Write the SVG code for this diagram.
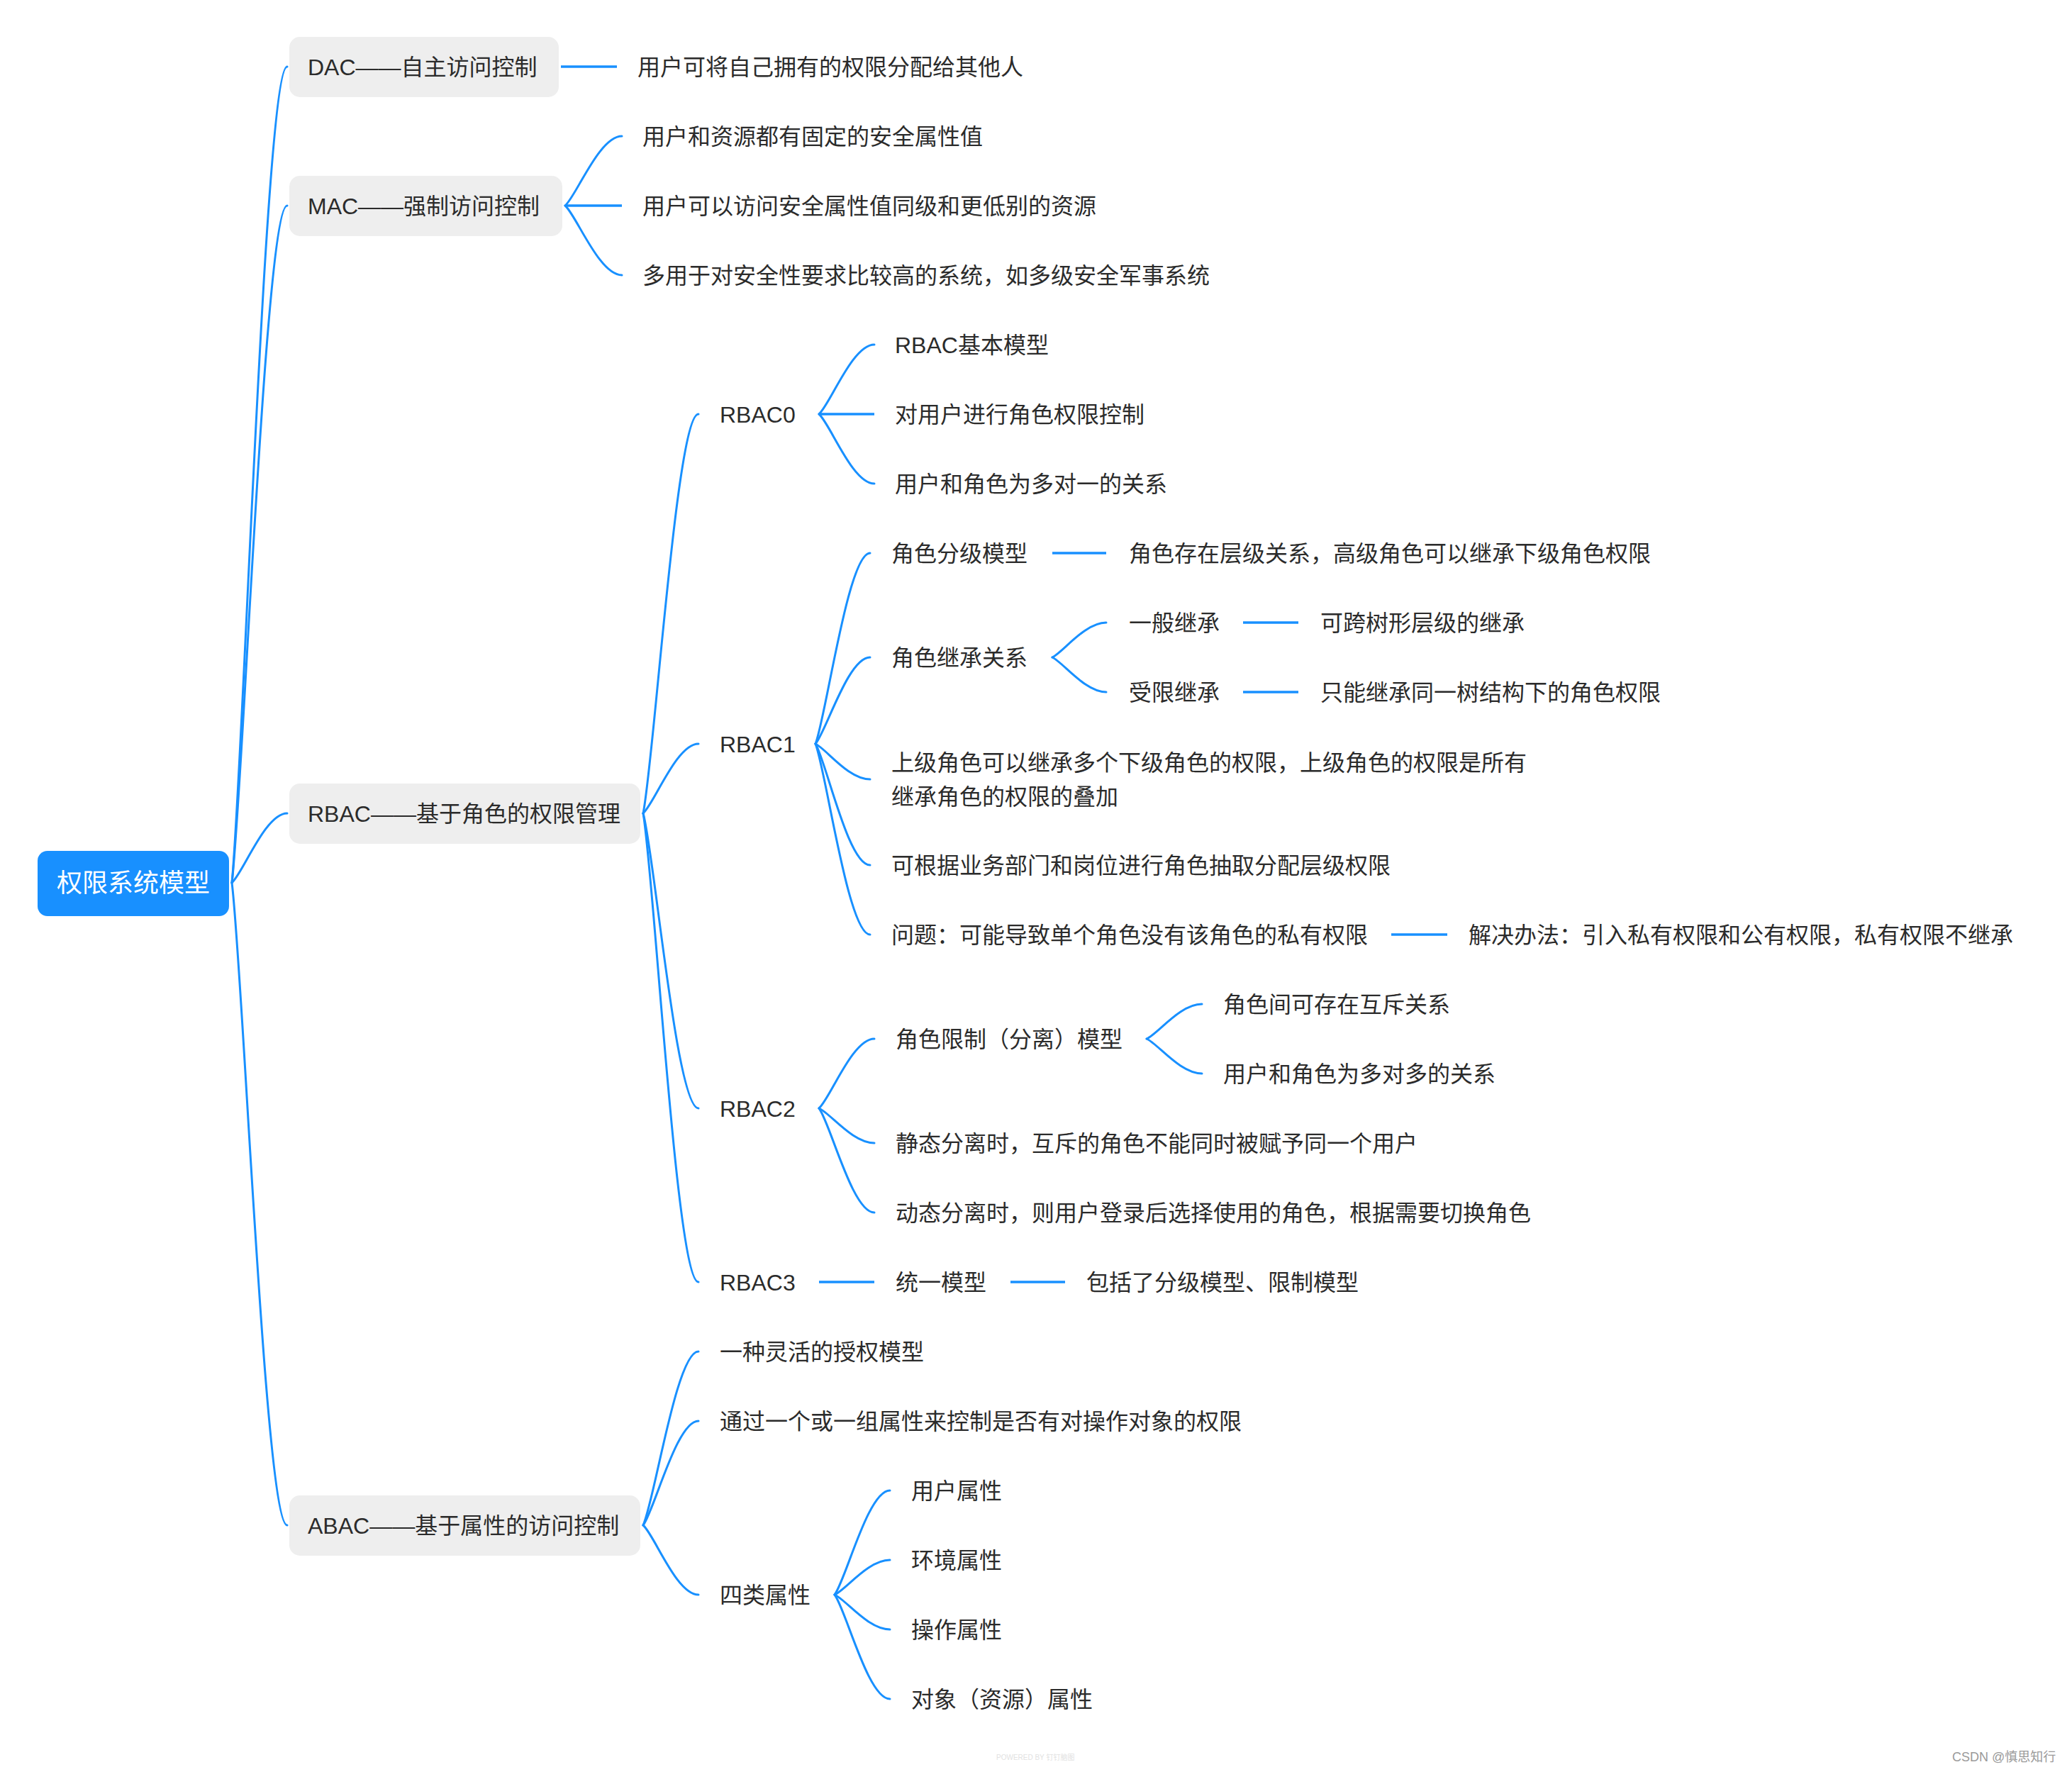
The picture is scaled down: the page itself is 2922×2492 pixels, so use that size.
<svg xmlns="http://www.w3.org/2000/svg" width="2922" height="2492" viewBox="0 0 2922 2492">
<style>
text{font-family:"Liberation Sans","Noto Sans CJK SC",sans-serif;font-size:32px;fill:#2b2b2b}
.root-box{fill:#1890ff}
.root-text{fill:#ffffff;font-size:36px}
.box{fill:#eeeeee}
.c{fill:none;stroke:#1890ff;stroke-width:3;stroke-linecap:round}
.s{fill:none;stroke:#1890ff;stroke-width:3.5}
.foot1{font-size:10px;fill:#e2e2e2}
.foot2{font-size:18px;fill:#9a9a9a}
</style>
<rect width="2922" height="2492" fill="#ffffff"/>
<g id="connectors">
<path class="c" d="M327,1245 C343,1084 374,94 405,94"/>
<path class="c" d="M327,1245 C343,1111 374,290 405,290"/>
<path class="c" d="M327,1245 C343,1231 374,1147 405,1147"/>
<path class="c" d="M327,1245 C343,1372 374,2151 405,2151"/>
<path class="s" d="M791,94 L870,94"/>
<path class="c" d="M797,290 C813,276 845,192 877,192"/>
<path class="s" d="M797,290 L877,290"/>
<path class="c" d="M797,290 C813,304 845,388 877,388"/>
<path class="c" d="M907,1147 C923,1068 954,584 985,584"/>
<path class="c" d="M907,1147 C923,1133 954,1049 985,1049"/>
<path class="c" d="M907,1147 C923,1205 954,1563 985,1563"/>
<path class="c" d="M907,1147 C923,1240 954,1808 985,1808"/>
<path class="c" d="M1155,584 C1171,570 1202,486 1233,486"/>
<path class="s" d="M1155,584 L1233,584"/>
<path class="c" d="M1155,584 C1171,598 1202,682 1233,682"/>
<path class="c" d="M1150,1049 C1165,1011 1196,780 1227,780"/>
<path class="c" d="M1150,1049 C1165,1032 1196,927 1227,927"/>
<path class="c" d="M1150,1049 C1165,1056 1196,1099 1227,1099"/>
<path class="c" d="M1150,1049 C1165,1073 1196,1220 1227,1220"/>
<path class="c" d="M1150,1049 C1165,1087 1196,1318 1227,1318"/>
<path class="s" d="M1484,780 L1560,780"/>
<path class="c" d="M1484,927 C1499,920 1530,878 1560,878"/>
<path class="c" d="M1484,927 C1499,934 1530,976 1560,976"/>
<path class="s" d="M1753,878 L1831,878"/>
<path class="s" d="M1753,976 L1831,976"/>
<path class="s" d="M1962,1318 L2041,1318"/>
<path class="c" d="M1155,1563 C1171,1549 1202,1465 1233,1465"/>
<path class="c" d="M1155,1563 C1171,1570 1202,1612 1233,1612"/>
<path class="c" d="M1155,1563 C1171,1584 1202,1710 1233,1710"/>
<path class="c" d="M1617,1465 C1633,1458 1664,1416 1695,1416"/>
<path class="c" d="M1617,1465 C1633,1472 1664,1514 1695,1514"/>
<path class="s" d="M1155,1808 L1233,1808"/>
<path class="s" d="M1425,1808 L1502,1808"/>
<path class="c" d="M907,2151 C923,2117 954,1906 985,1906"/>
<path class="c" d="M907,2151 C923,2130 954,2004 985,2004"/>
<path class="c" d="M907,2151 C923,2165 954,2249 985,2249"/>
<path class="c" d="M1177,2249 C1193,2228 1224,2102 1255,2102"/>
<path class="c" d="M1177,2249 C1193,2242 1224,2200 1255,2200"/>
<path class="c" d="M1177,2249 C1193,2256 1224,2298 1255,2298"/>
<path class="c" d="M1177,2249 C1193,2270 1224,2396 1255,2396"/>
</g>
<g id="root"><rect class="root-box" x="53" y="1200" width="270" height="92" rx="14"/><text class="root-text" x="188" y="1258" text-anchor="middle">权限系统模型</text></g>
<g id="dac"><rect class="box" x="408" y="52" width="380" height="85" rx="15"/><text x="434" y="106">DAC——自主访问控制</text></g>
<g id="dac-1"><text x="899" y="106">用户可将自己拥有的权限分配给其他人</text></g>
<g id="mac"><rect class="box" x="408" y="248" width="385" height="85" rx="15"/><text x="434" y="302">MAC——强制访问控制</text></g>
<g id="mac-1"><text x="906" y="204">用户和资源都有固定的安全属性值</text></g>
<g id="mac-2"><text x="906" y="302">用户可以访问安全属性值同级和更低别的资源</text></g>
<g id="mac-3"><text x="906" y="400">多用于对安全性要求比较高的系统，如多级安全军事系统</text></g>
<g id="rbac"><rect class="box" x="408" y="1105" width="495" height="85" rx="15"/><text x="434" y="1159">RBAC——基于角色的权限管理</text></g>
<g id="rbac0"><text x="1015" y="596">RBAC0</text></g>
<g id="rbac0-1"><text x="1262" y="498">RBAC基本模型</text></g>
<g id="rbac0-2"><text x="1262" y="596">对用户进行角色权限控制</text></g>
<g id="rbac0-3"><text x="1262" y="694">用户和角色为多对一的关系</text></g>
<g id="rbac1"><text x="1015" y="1061">RBAC1</text></g>
<g id="rbac1-1"><text x="1257" y="792">角色分级模型</text></g>
<g id="rbac1-1-1"><text x="1592" y="792">角色存在层级关系，高级角色可以继承下级角色权限</text></g>
<g id="rbac1-2"><text x="1257" y="939">角色继承关系</text></g>
<g id="rbac1-2-1"><text x="1592" y="890">一般继承</text></g>
<g id="rbac1-2-1-1"><text x="1862" y="890">可跨树形层级的继承</text></g>
<g id="rbac1-2-2"><text x="1592" y="988">受限继承</text></g>
<g id="rbac1-2-2-1"><text x="1862" y="988">只能继承同一树结构下的角色权限</text></g>
<g id="rbac1-3"><text x="1257" y="1087">上级角色可以继承多个下级角色的权限，上级角色的权限是所有</text><text x="1257" y="1135">继承角色的权限的叠加</text></g>
<g id="rbac1-4"><text x="1257" y="1232">可根据业务部门和岗位进行角色抽取分配层级权限</text></g>
<g id="rbac1-5"><text x="1257" y="1330">问题：可能导致单个角色没有该角色的私有权限</text></g>
<g id="rbac1-5-1"><text x="2071" y="1330">解决办法：引入私有权限和公有权限，私有权限不继承</text></g>
<g id="rbac2"><text x="1015" y="1575">RBAC2</text></g>
<g id="rbac2-1"><text x="1263" y="1477">角色限制（分离）模型</text></g>
<g id="rbac2-1-1"><text x="1725" y="1428">角色间可存在互斥关系</text></g>
<g id="rbac2-1-2"><text x="1725" y="1526">用户和角色为多对多的关系</text></g>
<g id="rbac2-2"><text x="1263" y="1624">静态分离时，互斥的角色不能同时被赋予同一个用户</text></g>
<g id="rbac2-3"><text x="1263" y="1722">动态分离时，则用户登录后选择使用的角色，根据需要切换角色</text></g>
<g id="rbac3"><text x="1015" y="1820">RBAC3</text></g>
<g id="rbac3-1"><text x="1263" y="1820">统一模型</text></g>
<g id="rbac3-1-1"><text x="1532" y="1820">包括了分级模型、限制模型</text></g>
<g id="abac"><rect class="box" x="408" y="2109" width="495" height="85" rx="15"/><text x="434" y="2163">ABAC——基于属性的访问控制</text></g>
<g id="abac-1"><text x="1015" y="1918">一种灵活的授权模型</text></g>
<g id="abac-2"><text x="1015" y="2016">通过一个或一组属性来控制是否有对操作对象的权限</text></g>
<g id="abac-3"><text x="1015" y="2261">四类属性</text></g>
<g id="abac-3-1"><text x="1285" y="2114">用户属性</text></g>
<g id="abac-3-2"><text x="1285" y="2212">环境属性</text></g>
<g id="abac-3-3"><text x="1285" y="2310">操作属性</text></g>
<g id="abac-3-4"><text x="1285" y="2408">对象（资源）属性</text></g>
<text class="foot1" x="1405" y="2482">POWERED BY 钉钉脑图</text>
<text class="foot2" x="2753" y="2484">CSDN @慎思知行</text>
</svg>
